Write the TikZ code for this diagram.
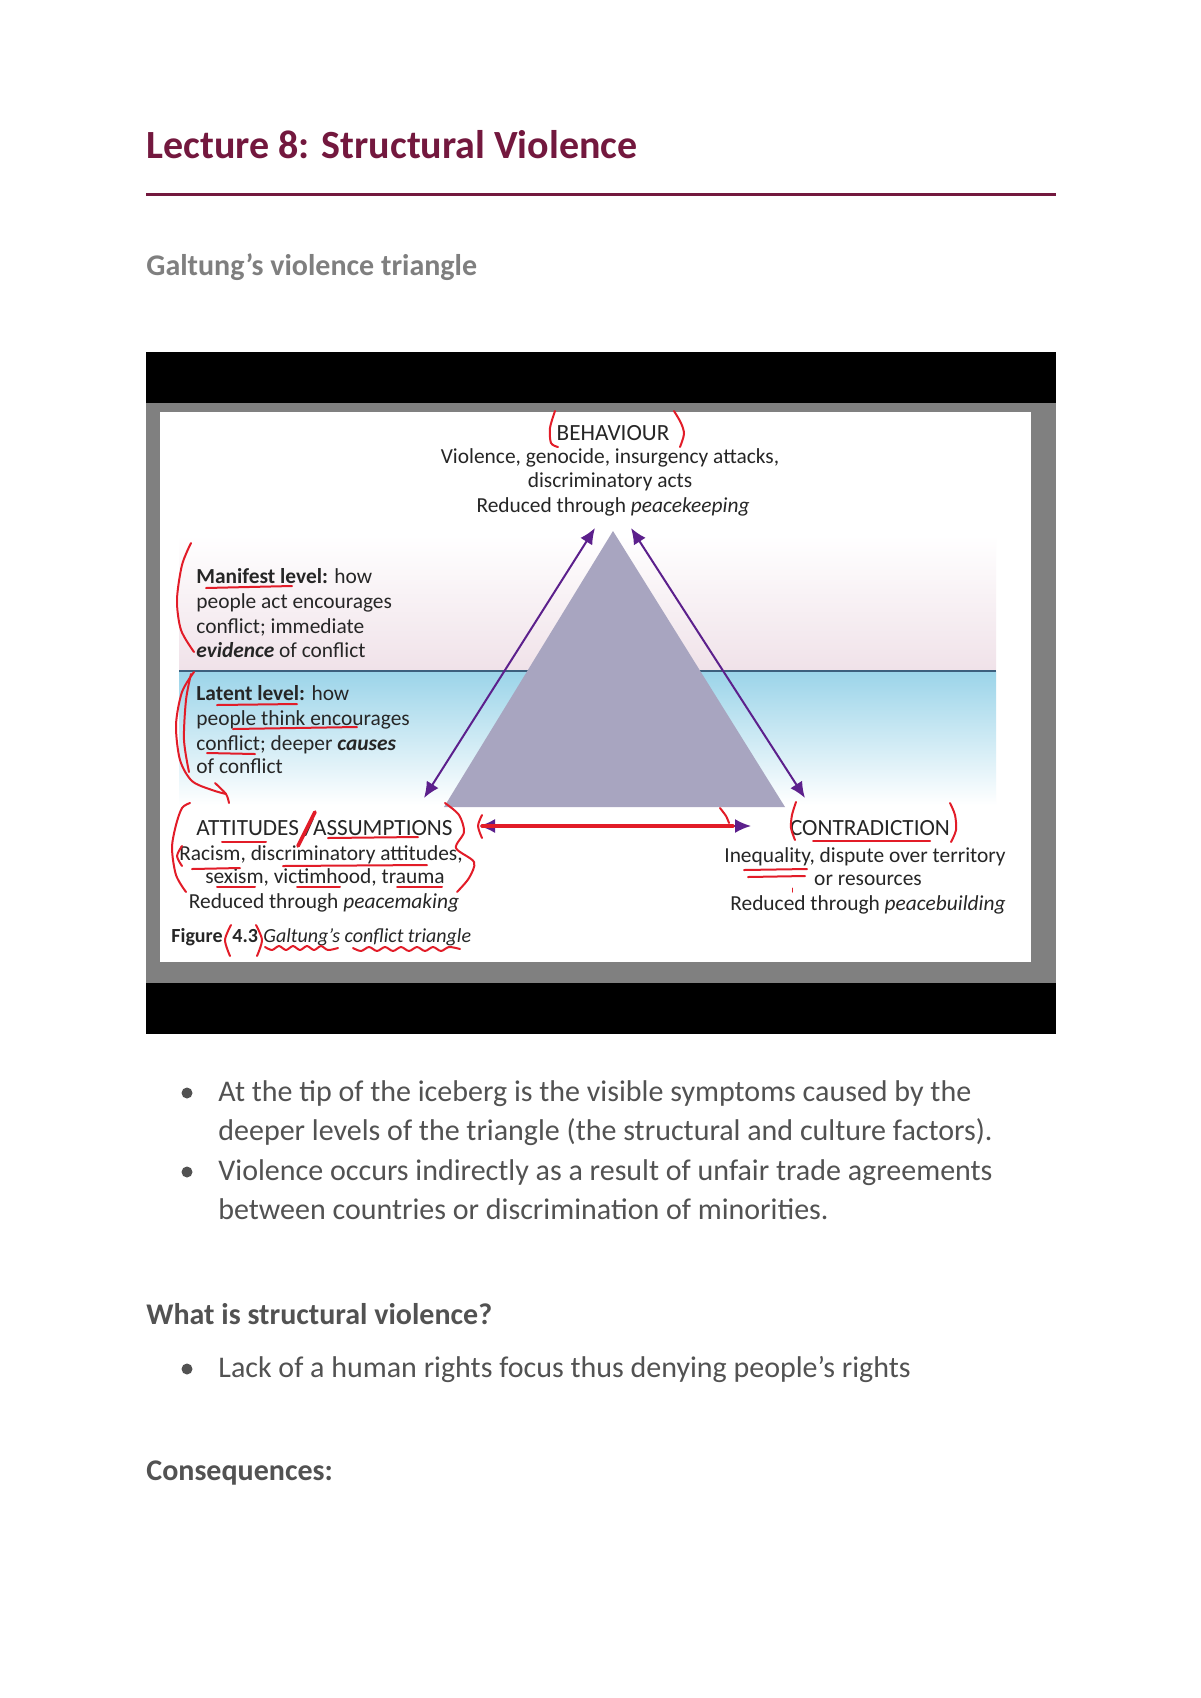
\documentclass[tikz,border=0pt]{standalone}
\usepackage{fontspec}
\setmainfont{Carlito}
\usetikzlibrary{arrows.meta}
\definecolor{maroon}{RGB}{115,24,62}
\definecolor{headgray}{RGB}{127,127,127}
\definecolor{bodygray}{RGB}{82,82,82}
\definecolor{framegray}{RGB}{128,128,128}
\definecolor{pinkband}{RGB}{240,226,233}
\definecolor{blueband}{RGB}{155,212,233}
\definecolor{waterline}{RGB}{60,95,125}
\definecolor{trifill}{RGB}{168,165,192}
\definecolor{arrowpurple}{RGB}{92,32,140}
\definecolor{penred}{RGB}{226,28,40}
\definecolor{figtext}{RGB}{38,38,38}
\begin{document}
\begin{tikzpicture}[x=0.5pt,y=-0.5pt,
  pagetext/.style={anchor=base west,inner sep=0pt,text=bodygray,font=\fontsize{15}{18}\selectfont},
  titletext/.style={anchor=base west,inner sep=0pt,text=maroon,font=\fontsize{20}{24}\selectfont\bfseries},
  subhead/.style={anchor=base west,inner sep=0pt,text=headgray,font=\fontsize{15}{18}\selectfont\bfseries},
  boldhead/.style={anchor=base west,inner sep=0pt,text=bodygray,font=\fontsize{15}{18}\selectfont\bfseries},
  bulletdot/.style={circle,fill=bodygray,inner sep=0pt,minimum size=5.5pt},
  figc/.style={anchor=base,inner sep=0pt,text=figtext,font=\fontsize{10.7}{12}\selectfont},
  figl/.style={anchor=base west,inner sep=0pt,text=figtext,font=\fontsize{10.7}{12}\selectfont},
  fighead/.style={inner sep=0pt,text=figtext,font=\fontsize{11.6}{13}\selectfont},
  figcap/.style={anchor=base west,inner sep=0pt,text=figtext,font=\fontsize{10}{12}\selectfont},
  pen/.style={draw=penred,line width=1pt,line cap=round,line join=round},
  dblarrow/.style={draw=arrowpurple,line width=1pt,{Latex[length=8pt,width=7pt]}-{Latex[length=8pt,width=7pt]}},
]
\useasboundingbox (0,0) rectangle (1200,1698);
\fill[white] (0,0) rectangle (1200,1698);

% ---------- header ----------
\node[titletext] (title) at (146,158) {Lecture 8: Structural Violence};
\draw[maroon,line width=1.5pt] (146,194) -- (1056,194);
\node[subhead] (sub) at (146,275) {Galtung’s violence triangle};

% ---------- figure frame ----------
\fill[black] (146,352) rectangle (1056,1034);
\fill[framegray] (146,403) rectangle (1056,983);
\fill[white] (160,412) rectangle (1031,962);
\shade[top color=white,bottom color=pinkband] (179,535) rectangle (996,670);
\shade[top color=blueband,bottom color=white] (179,671) rectangle (996,805);
\draw[waterline,line width=1pt] (179,671) -- (996,671);

% triangle
\coordinate (apex) at (613,531);
\coordinate (bl) at (444,807);
\coordinate (br) at (785,807);
\fill[trifill] (apex) -- (bl) -- (br) -- cycle;

% arrows
\coordinate (la1) at (595,528);
\coordinate (la2) at (424,798);
\coordinate (ra1) at (631,528);
\coordinate (ra2) at (805,798);
\coordinate (ba1) at (479,826);
\coordinate (ba2) at (751,826);
\draw[dblarrow] (la1) -- (la2);
\draw[dblarrow] (ra1) -- (ra2);
\draw[dblarrow] (ba1) -- (ba2);

% ---------- figure text ----------
\node[fighead,anchor=base] (beh) at (613,440) {BEHAVIOUR};
\node[figc] (beh1) at (610,463) {Violence, genocide, insurgency attacks,};
\node[figc] (beh2) at (610,487) {discriminatory acts};
\node[figc] (beh3) at (613,512) {Reduced through \textit{peacekeeping}};

\node[figl] (man1) at (196,583) {\textbf{Manifest level:} how};
\node[figl] (man2) at (196,608) {people act encourages};
\node[figl] (man3) at (196,633) {conflict; immediate};
\node[figl] (man4) at (196,657) {\textbf{\textit{evidence}} of conflict};

\node[figl] (lat1) at (196,700) {\textbf{Latent level:} how};
\node[figl] (lat2) at (196,725) {people think encourages};
\node[figl] (lat3) at (196,750) {conflict; deeper \textbf{\textit{causes}}};
\node[figl] (lat4) at (196,773) {of conflict};

\node[fighead,anchor=base west] (att) at (196,835) {ATTITUDES};
\node[fighead,anchor=base east] (ass) at (453,835) {/ASSUMPTIONS};
\node[figc] (att1) at (321,860) {Racism, discriminatory attitudes,};
\node[figc] (att2) at (325,883) {sexism, victimhood, trauma};
\node[figc] (att3) at (324,908) {Reduced through \textit{peacemaking}};
\node[figcap] (fig) at (171,942) {\textbf{Figure}};
\node[figcap] (fignum) at (232,942) {\textbf{4.3}};
\node[figcap] (figtitle) at (263,942) {\textit{Galtung’s conflict triangle}};

\node[fighead,anchor=base] (con) at (870,835) {CONTRADICTION};
\node[figc] (con1) at (865,862) {Inequality, dispute over territory};
\node[figc] (con2) at (868,885) {or resources};
\node[figc] (con3) at (868,910) {Reduced through \textit{peacebuilding}};

% ---------- red pen annotations ----------
% BEHAVIOUR brackets
\draw[pen] plot[smooth] coordinates {(555,411) (550,428) (551,443) (558,447)};
\draw[pen] plot[smooth] coordinates {(674,411) (681,423) (684,434) (680,447)};
% manifest bracket
\draw[pen] plot[smooth] coordinates {(191,543) (182,565) (177,600) (181,630) (194,652)};
\draw[pen] (206,588) -- (292,586);
% latent bracket
\draw[pen] plot[smooth] coordinates {(194,672) (182,692) (176,725) (180,760) (192,781) (212,790) (226,794)};
\draw[pen] plot[smooth] coordinates {(191,674) (186,700) (184,740) (189,772)};
\draw[pen] plot[smooth] coordinates {(215,783) (226,794) (229,803)};
\draw[pen] (217,705) -- (297,704);
\draw[pen] (233,729) -- (357,727);
\draw[pen] (207,753) -- (255,754);
% attitudes bracket
\draw[pen] plot[smooth] coordinates {(190,803) (182,808) (176,825) (172,848) (176,875) (186,892)};
\draw[pen,line width=1.8pt] (298,846) -- (315,812);
\draw[pen] (222,842) -- (266,842);
\draw[pen] (328,838) -- (418,837);
\draw[pen] plot[smooth] coordinates {(182,846) (177,856) (182,866)};
\draw[pen] (192,869) -- (240,868);
\draw[pen] (283,866) -- (427,865);
\draw[pen] (217,887) -- (255,887);
\draw[pen] (297,887) -- (340,887);
\draw[pen] (397,887) -- (442,887);
\draw[pen] plot[smooth] coordinates {(445,803) (459,815) (464,832) (456,848) (474,862) (469,878) (457,892)};
% figure 4.3 parens and wavy underline
\draw[pen] plot[smooth] coordinates {(231,925) (225,940) (230,956)};
\draw[pen] plot[smooth] coordinates {(256,925) (262,940) (257,956)};
\draw[pen] plot[smooth] coordinates {(265,947) (272,950) (279,946) (286,950) (293,946) (300,950) (307,946) (314,950) (321,946) (328,950) (338,948)};
\draw[pen] plot[smooth] coordinates {(353,948) (361,951) (369,947) (377,951) (385,947) (393,951) (401,947) (409,951) (417,947) (425,951) (433,947) (441,951) (449,947) (460,949)};
% bottom arrow overdrawn in red
\draw[pen,line width=1.6pt] (482,826) -- (733,826);
\draw[pen] plot[smooth] coordinates {(720,808) (726,816) (729,823)};
\draw[pen] plot[smooth] coordinates {(482,815) (478,826) (482,838)};
% contradiction
\draw[pen] plot[smooth] coordinates {(796,802) (792,815) (791,828) (795,840)};
\draw[pen] plot[smooth] coordinates {(950,803) (955,815) (956,830) (951,842)};
\draw[pen] (813,841) -- (930,841);
\draw[pen] (744,870) -- (807,869);
\draw[pen] (748,877) -- (805,876);
\draw[pen,line width=0.5pt] (792,888) -- (792,892);

% ---------- bullets ----------
\node[bulletdot] (d1) at (187,1093) {};
\node[pagetext] (b1a) at (218,1101) {At the tip of the iceberg is the visible symptoms caused by the};
\node[pagetext] (b1b) at (218,1140) {deeper levels of the triangle (the structural and culture factors).};
\node[bulletdot] (d2) at (187,1172) {};
\node[pagetext] (b2a) at (218,1180) {Violence occurs indirectly as a result of unfair trade agreements};
\node[pagetext] (b2b) at (218,1219) {between countries or discrimination of minorities.};

\node[boldhead] (q) at (146,1324) {What is structural violence?};
\node[bulletdot] (d3) at (187,1369) {};
\node[pagetext] (b3) at (218,1377) {Lack of a human rights focus thus denying people’s rights};
\node[boldhead] (cons) at (146,1480) {Consequences:};
\end{tikzpicture}
\end{document}
